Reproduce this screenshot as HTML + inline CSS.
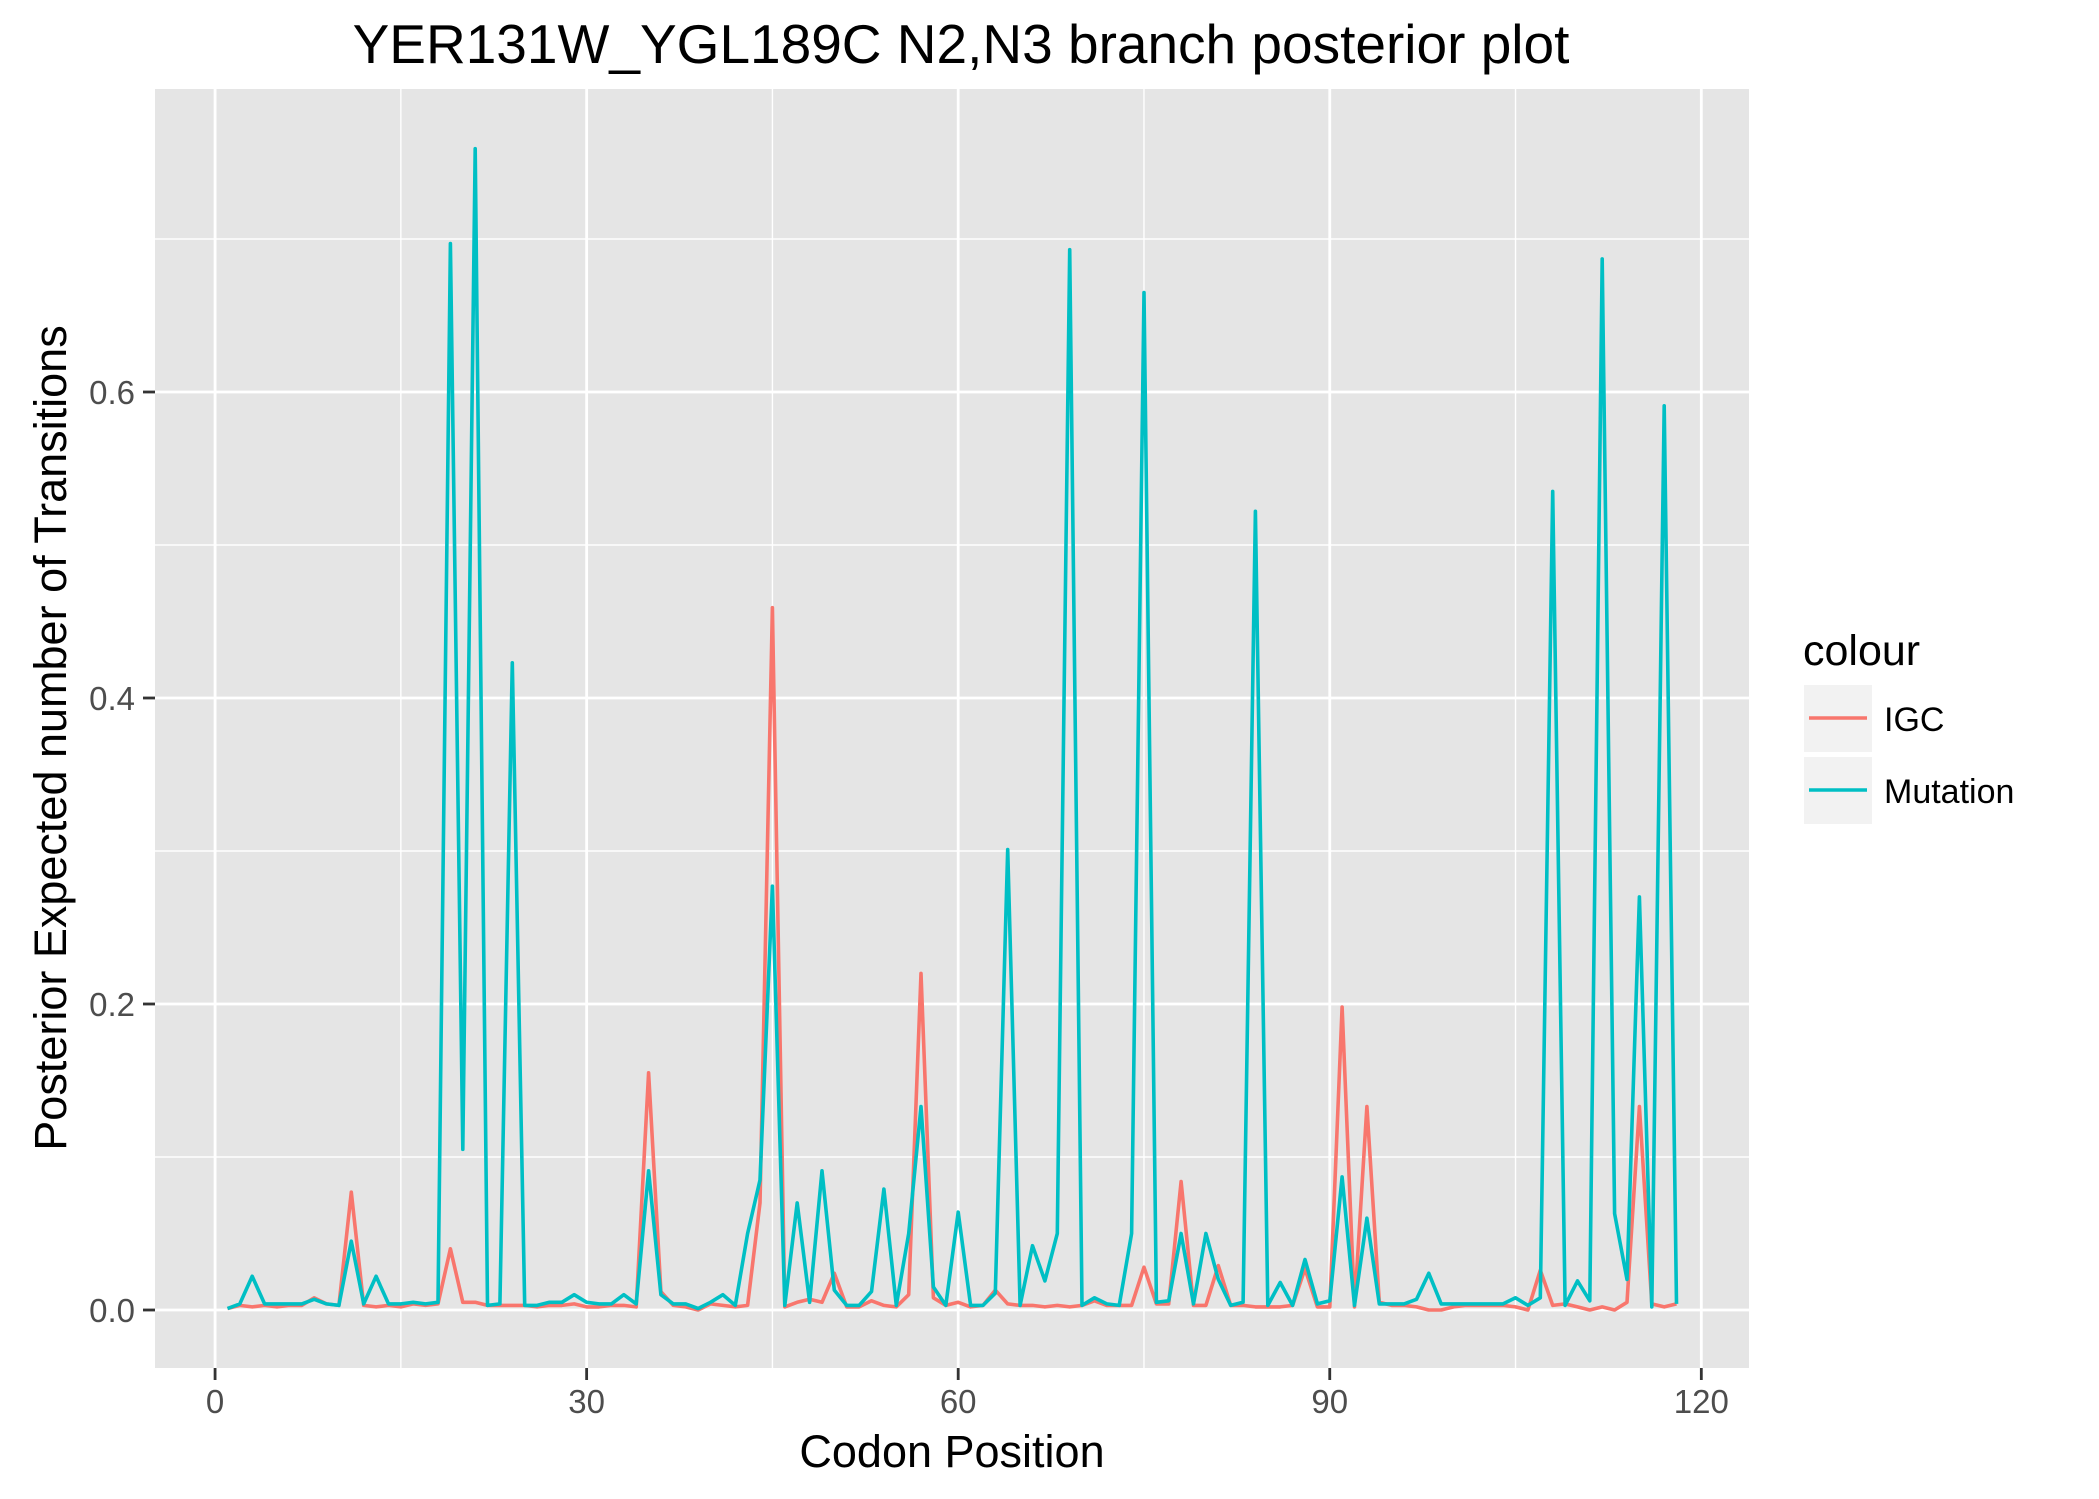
<!DOCTYPE html>
<html><head><meta charset="utf-8">
<style>
html,body{margin:0;padding:0;background:#fff;}
svg{display:block;font-family:"Liberation Sans",Arial,sans-serif;}
</style></head>
<body>
<svg id="chart" width="2099" height="1499" viewBox="0 0 2099 1499" xmlns="http://www.w3.org/2000/svg">
<rect width="2099" height="1499" fill="#fff"/>
<text x="961" y="63" font-size="55" text-anchor="middle" fill="#000">YER131W_YGL189C N2,N3 branch posterior plot</text>
<rect x="155" y="89" width="1594" height="1279" fill="#e5e5e5"/>
<g id="grid"></g>
<g id="series"></g>
<g id="axes"></g>
<text x="952" y="1467" font-size="45" text-anchor="middle" fill="#000">Codon Position</text>
<text transform="translate(66,738) rotate(-90)" font-size="45" text-anchor="middle" fill="#000">Posterior Expected number of Transitions</text>
<g>
<text x="1803" y="665" font-size="43" fill="#000">colour</text>
<g>
<rect x="1804" y="685" width="68" height="67" fill="#f2f2f2"/>
<line x1="1809" x2="1867" y1="718" y2="718" stroke="#F8766D" stroke-width="3.5"/>
<text x="1884" y="731" font-size="34" fill="#000">IGC</text>
</g>
<g>
<rect x="1804" y="757" width="68" height="67" fill="#f2f2f2"/>
<line x1="1809" x2="1867" y1="790" y2="790" stroke="#00BFC4" stroke-width="3.5"/>
<text x="1884" y="803" font-size="34" fill="#000">Mutation</text>
</g>
</g>
</svg>
<script>
const mutation = [0.001,0.004,0.022,0.004,0.004,0.004,0.004,0.007,0.004,0.003,
0.045,0.004,0.022,0.004,0.004,0.005,0.004,0.005,0.697,0.105,
0.759,0.003,0.004,0.423,0.003,0.003,0.005,0.005,0.010,0.005,
0.004,0.004,0.010,0.004,0.091,0.010,0.004,0.004,0.001,0.005,
0.010,0.003,0.050,0.085,0.277,0.003,0.070,0.005,0.091,0.013,
0.003,0.003,0.012,0.079,0.003,0.050,0.133,0.015,0.003,0.064,
0.003,0.003,0.011,0.301,0.003,0.042,0.019,0.050,0.693,0.003,
0.008,0.004,0.003,0.050,0.665,0.005,0.006,0.050,0.004,0.050,
0.020,0.003,0.005,0.522,0.003,0.018,0.003,0.033,0.004,0.006,
0.087,0.003,0.060,0.004,0.004,0.004,0.007,0.024,0.004,0.004,
0.004,0.004,0.004,0.004,0.008,0.003,0.008,0.535,0.003,0.019,
0.006,0.687,0.063,0.020,0.270,0.002,0.591,0.004];
const igc = [0.001,0.003,0.002,0.003,0.002,0.003,0.003,0.008,0.004,0.003,
0.077,0.003,0.002,0.003,0.002,0.004,0.003,0.004,0.040,0.005,
0.005,0.003,0.003,0.003,0.003,0.002,0.003,0.003,0.004,0.002,
0.002,0.003,0.003,0.002,0.155,0.012,0.003,0.002,0.000,0.004,
0.003,0.002,0.003,0.070,0.459,0.002,0.005,0.007,0.005,0.024,
0.002,0.002,0.006,0.003,0.002,0.010,0.220,0.008,0.003,0.005,
0.002,0.003,0.013,0.004,0.003,0.003,0.002,0.003,0.002,0.003,
0.006,0.003,0.003,0.003,0.028,0.004,0.004,0.084,0.003,0.003,
0.029,0.003,0.003,0.002,0.002,0.002,0.003,0.027,0.002,0.002,
0.198,0.002,0.133,0.005,0.003,0.003,0.002,0.000,0.000,0.002,
0.003,0.003,0.003,0.003,0.002,0.000,0.026,0.003,0.004,0.002,
0.000,0.002,0.000,0.005,0.133,0.004,0.002,0.004];
const xTicks = [0,30,60,90,120];
const xMinor = [15,45,75,105];
const yTicks = [0.0,0.2,0.4,0.6];
const yTickLabels = ["0.0","0.2","0.4","0.6"];
const yMinor = [0.1,0.3,0.5,0.7];

const NS = "http://www.w3.org/2000/svg";
const PL=155, PR=1749, PT=89, PB=1368;
const X0=-4.85, X1=123.85;
function xs(v){return PL+(v-X0)/(X1-X0)*(PR-PL);}
function ys(v){return 1310 - v*1530;}
function mk(tag, attrs, parent){const e=document.createElementNS(NS,tag);for(const k in attrs)e.setAttribute(k,attrs[k]);parent.appendChild(e);return e;}
const grid=document.getElementById('grid'), axes=document.getElementById('axes'), series=document.getElementById('series');
yMinor.forEach(v=>{const l=mk('line',{x1:PL,x2:PR,y1:ys(v),y2:ys(v),stroke:'#fff','stroke-width':1.4},grid);

});
xMinor.forEach(v=>{const l=mk('line',{x1:xs(v),x2:xs(v),y1:PT,y2:PB,stroke:'#fff','stroke-width':1.4},grid);

});
yTicks.forEach((v,i)=>{const l=mk('line',{x1:PL,x2:PR,y1:ys(v),y2:ys(v),stroke:'#fff','stroke-width':2.8},grid);


const t=mk('line',{x1:PL-12,x2:PL,y1:ys(v),y2:ys(v),stroke:'#333','stroke-width':2.8},axes);


const tx=mk('text',{x:PL-20,y:ys(v)+12,'font-size':33,'text-anchor':'end',fill:'#4d4d4d'},axes);
tx.textContent=yTickLabels[i];

});
xTicks.forEach(v=>{const l=mk('line',{x1:xs(v),x2:xs(v),y1:PT,y2:PB,stroke:'#fff','stroke-width':2.8},grid);


const t=mk('line',{x1:xs(v),x2:xs(v),y1:PB,y2:PB+12,stroke:'#333','stroke-width':2.8},axes);


const tx=mk('text',{x:xs(v),y:PB+45,'font-size':33,'text-anchor':'middle',fill:'#4d4d4d'},axes);
tx.textContent=String(v);

});
function drawLine(arr,color,name){
  const pts=arr.map((v,i)=>xs(i+1).toFixed(1)+','+ys(v).toFixed(1)).join(' ');
  const p=mk('polyline',{points:pts,fill:'none',stroke:color,'stroke-width':3.6,'stroke-linejoin':'round'},series);
  
  
}
drawLine(igc,'#F8766D','igc-line');
drawLine(mutation,'#00BFC4','mutation-line');
</script>
</body></html>
